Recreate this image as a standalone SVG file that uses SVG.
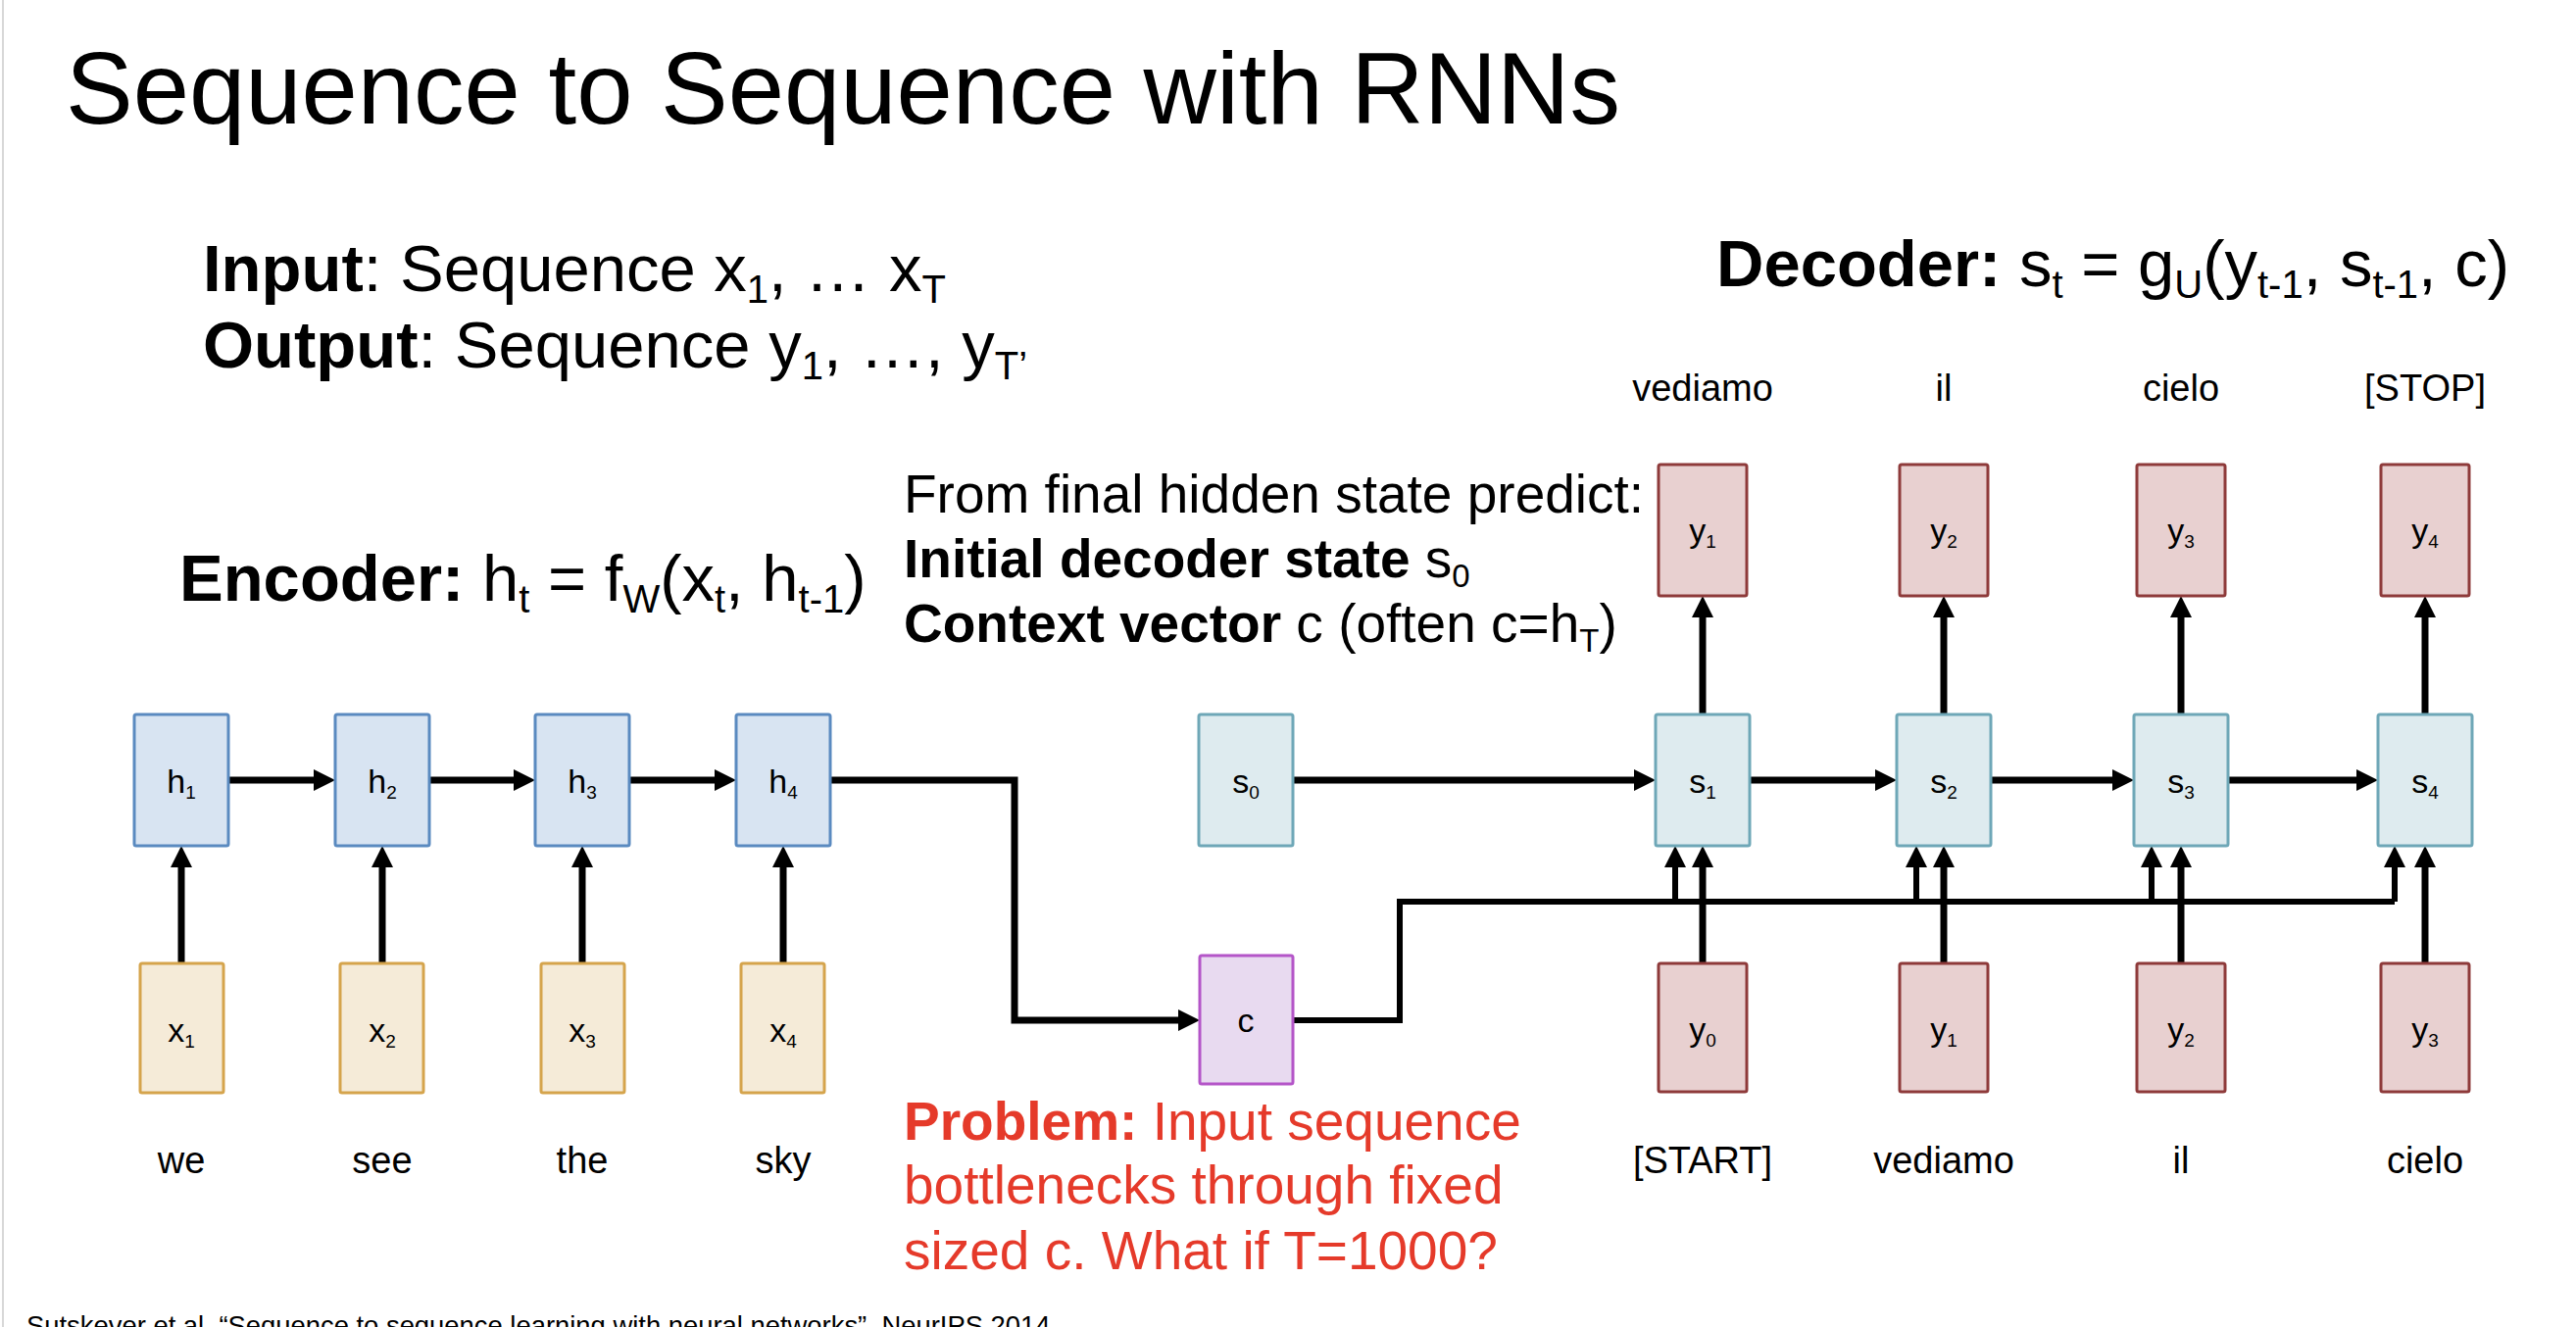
<svg xmlns="http://www.w3.org/2000/svg" width="2628" height="1354" viewBox="0 0 2628 1354">
<defs>
<style>
text{font-family:"Liberation Sans",Arial,sans-serif;fill:#000}
.b{font-weight:bold}
.title{font-size:103px}
.f67{font-size:67px}
.s67{font-size:40px}
.f55{font-size:55px}
.s55{font-size:33px}
.red{fill:#e53a2a}
.word{font-size:38px;text-anchor:middle}
.lab{font-size:34px;text-anchor:middle}
.ls{font-size:19px}
.box{stroke-width:3}
.h{fill:#d8e4f2;stroke:#5a8ac0}
.x{fill:#f5ebd8;stroke:#d5a44c}
.st{fill:#deebef;stroke:#6ea7b7}
.c{fill:#e8daf0;stroke:#b455c8}
.y{fill:#e8d0d0;stroke:#8e3a3a}
.con{fill:none;stroke:#000;stroke-width:7;stroke-linejoin:miter}
.cl{fill:none;stroke:#000;stroke-width:6;stroke-linejoin:miter}
</style>
<marker id="ah" markerUnits="userSpaceOnUse" markerWidth="22" markerHeight="22" refX="12" refY="11" orient="auto" viewBox="0 0 22 22">
<path d="M0,0 L22,11 L0,22 z" fill="#000"/>
</marker>
</defs>
<rect x="0" y="0" width="2628" height="1354" fill="#fff"/>
<line x1="3" y1="0" x2="3" y2="1354" stroke="#d8d8d8" stroke-width="2"/>

<text class="title" x="67" y="126">Sequence to Sequence with RNNs</text>

<text class="f67" x="207" y="297"><tspan class="b">Input</tspan>: Sequence x<tspan class="s67" dy="12">1</tspan><tspan dy="-12">, … x</tspan><tspan class="s67" dy="12">T</tspan></text>
<text class="f67" x="207" y="375"><tspan class="b">Output</tspan>: Sequence y<tspan class="s67" dy="12">1</tspan><tspan dy="-12">, …, y</tspan><tspan class="s67" dy="12">T’</tspan></text>

<text class="f67" x="1751" y="292"><tspan class="b">Decoder:</tspan> s<tspan class="s67" dy="12">t</tspan><tspan dy="-12"> = g</tspan><tspan class="s67" dy="12">U</tspan><tspan dy="-12">(y</tspan><tspan class="s67" dy="12">t-1</tspan><tspan dy="-12">, s</tspan><tspan class="s67" dy="12">t-1</tspan><tspan dy="-12">, c)</tspan></text>

<text class="f67" x="183" y="613"><tspan class="b">Encoder:</tspan> h<tspan class="s67" dy="12">t</tspan><tspan dy="-12"> = f</tspan><tspan class="s67" dy="12">W</tspan><tspan dy="-12">(x</tspan><tspan class="s67" dy="12">t</tspan><tspan dy="-12">, h</tspan><tspan class="s67" dy="12">t-1</tspan><tspan dy="-12">)</tspan></text>

<text class="f55" x="922" y="523">From final hidden state predict:</text>
<text class="f55" x="922" y="589"><tspan class="b">Initial decoder state</tspan> s<tspan class="s55" dy="10">0</tspan></text>
<text class="f55" x="922" y="655"><tspan class="b">Context vector</tspan> c (often c=h<tspan class="s55" dy="10">T</tspan><tspan dy="-10">)</tspan></text>

<text class="f55 red" x="922" y="1163"><tspan class="b red">Problem:</tspan> Input sequence</text>
<text class="f55 red" x="922" y="1228">bottlenecks through fixed</text>
<text class="f55 red" x="922" y="1295">sized c. What if T=1000?</text>

<text x="27" y="1362" font-size="27.4">Sutskever et al, “Sequence to sequence learning with neural networks”, NeurIPS 2014</text>

<g id="words">
<text class="word" x="185" y="1197">we</text>
<text class="word" x="390" y="1197">see</text>
<text class="word" x="594" y="1197">the</text>
<text class="word" x="799" y="1197">sky</text>
<text class="word" x="1737" y="1197">[START]</text>
<text class="word" x="1983" y="1197">vediamo</text>
<text class="word" x="2225" y="1197">il</text>
<text class="word" x="2474" y="1197">cielo</text>
<text class="word" x="1737" y="409">vediamo</text>
<text class="word" x="1983" y="409">il</text>
<text class="word" x="2225" y="409">cielo</text>
<text class="word" x="2474" y="409">[STOP]</text>
</g>

<g id="connectors">
<path class="cl" d="M1319,1041 H1428 V920 H2443"/>
<path class="cl" d="M1709,920 V873" marker-end="url(#ah)"/>
<path class="cl" d="M1955,920 V873" marker-end="url(#ah)"/>
<path class="cl" d="M2195,920 V873" marker-end="url(#ah)"/>
<path class="cl" d="M2443,920 V873" marker-end="url(#ah)"/>
<path class="con" d="M233,796 H332" marker-end="url(#ah)"/>
<path class="con" d="M438,796 H536" marker-end="url(#ah)"/>
<path class="con" d="M642,796 H741" marker-end="url(#ah)"/>
<path class="con" d="M185,983 V873" marker-end="url(#ah)"/>
<path class="con" d="M390,983 V873" marker-end="url(#ah)"/>
<path class="con" d="M594,983 V873" marker-end="url(#ah)"/>
<path class="con" d="M799,983 V873" marker-end="url(#ah)"/>
<path class="con" d="M847,796 H1035 V1041 H1214" marker-end="url(#ah)"/>
<path class="con" d="M1319,796 H1679" marker-end="url(#ah)"/>
<path class="con" d="M1785,796 H1925" marker-end="url(#ah)"/>
<path class="con" d="M2031,796 H2167" marker-end="url(#ah)"/>
<path class="con" d="M2273,796 H2416" marker-end="url(#ah)"/>
<path class="con" d="M1737,729 V618" marker-end="url(#ah)"/>
<path class="con" d="M1983,729 V618" marker-end="url(#ah)"/>
<path class="con" d="M2225,729 V618" marker-end="url(#ah)"/>
<path class="con" d="M2474,729 V618" marker-end="url(#ah)"/>
<path class="con" d="M1737,983 V873" marker-end="url(#ah)"/>
<path class="con" d="M1983,983 V873" marker-end="url(#ah)"/>
<path class="con" d="M2225,983 V873" marker-end="url(#ah)"/>
<path class="con" d="M2474,983 V873" marker-end="url(#ah)"/>
</g>

<g id="h1"><rect class="box h" x="137" y="729" width="96" height="134" rx="2"/><text class="lab" x="185" y="809">h<tspan class="ls" dy="6">1</tspan></text></g>
<g id="h2"><rect class="box h" x="342" y="729" width="96" height="134" rx="2"/><text class="lab" x="390" y="809">h<tspan class="ls" dy="6">2</tspan></text></g>
<g id="h3"><rect class="box h" x="546" y="729" width="96" height="134" rx="2"/><text class="lab" x="594" y="809">h<tspan class="ls" dy="6">3</tspan></text></g>
<g id="h4"><rect class="box h" x="751" y="729" width="96" height="134" rx="2"/><text class="lab" x="799" y="809">h<tspan class="ls" dy="6">4</tspan></text></g>

<g id="x1"><rect class="box x" x="143" y="983" width="85" height="132" rx="2"/><text class="lab" x="185" y="1063">x<tspan class="ls" dy="6">1</tspan></text></g>
<g id="x2"><rect class="box x" x="347" y="983" width="85" height="132" rx="2"/><text class="lab" x="390" y="1063">x<tspan class="ls" dy="6">2</tspan></text></g>
<g id="x3"><rect class="box x" x="552" y="983" width="85" height="132" rx="2"/><text class="lab" x="594" y="1063">x<tspan class="ls" dy="6">3</tspan></text></g>
<g id="x4"><rect class="box x" x="756" y="983" width="85" height="132" rx="2"/><text class="lab" x="799" y="1063">x<tspan class="ls" dy="6">4</tspan></text></g>

<g id="s0"><rect class="box st" x="1223" y="729" width="96" height="134" rx="2"/><text class="lab" x="1271" y="809">s<tspan class="ls" dy="6">0</tspan></text></g>
<g id="s1"><rect class="box st" x="1689" y="729" width="96" height="134" rx="2"/><text class="lab" x="1737" y="809">s<tspan class="ls" dy="6">1</tspan></text></g>
<g id="s2"><rect class="box st" x="1935" y="729" width="96" height="134" rx="2"/><text class="lab" x="1983" y="809">s<tspan class="ls" dy="6">2</tspan></text></g>
<g id="s3"><rect class="box st" x="2177" y="729" width="96" height="134" rx="2"/><text class="lab" x="2225" y="809">s<tspan class="ls" dy="6">3</tspan></text></g>
<g id="s4"><rect class="box st" x="2426" y="729" width="96" height="134" rx="2"/><text class="lab" x="2474" y="809">s<tspan class="ls" dy="6">4</tspan></text></g>

<g id="c"><rect class="box c" x="1224" y="975" width="95" height="131" rx="2"/><text class="lab" x="1271" y="1053">c</text></g>

<g id="yout1"><rect class="box y" x="1692" y="474" width="90" height="134" rx="2"/><text class="lab" x="1737" y="553">y<tspan class="ls" dy="6">1</tspan></text></g>
<g id="yout2"><rect class="box y" x="1938" y="474" width="90" height="134" rx="2"/><text class="lab" x="1983" y="553">y<tspan class="ls" dy="6">2</tspan></text></g>
<g id="yout3"><rect class="box y" x="2180" y="474" width="90" height="134" rx="2"/><text class="lab" x="2225" y="553">y<tspan class="ls" dy="6">3</tspan></text></g>
<g id="yout4"><rect class="box y" x="2429" y="474" width="90" height="134" rx="2"/><text class="lab" x="2474" y="553">y<tspan class="ls" dy="6">4</tspan></text></g>

<g id="yin0"><rect class="box y" x="1692" y="983" width="90" height="131" rx="2"/><text class="lab" x="1737" y="1062">y<tspan class="ls" dy="6">0</tspan></text></g>
<g id="yin1"><rect class="box y" x="1938" y="983" width="90" height="131" rx="2"/><text class="lab" x="1983" y="1062">y<tspan class="ls" dy="6">1</tspan></text></g>
<g id="yin2"><rect class="box y" x="2180" y="983" width="90" height="131" rx="2"/><text class="lab" x="2225" y="1062">y<tspan class="ls" dy="6">2</tspan></text></g>
<g id="yin3"><rect class="box y" x="2429" y="983" width="90" height="131" rx="2"/><text class="lab" x="2474" y="1062">y<tspan class="ls" dy="6">3</tspan></text></g>
</svg>
